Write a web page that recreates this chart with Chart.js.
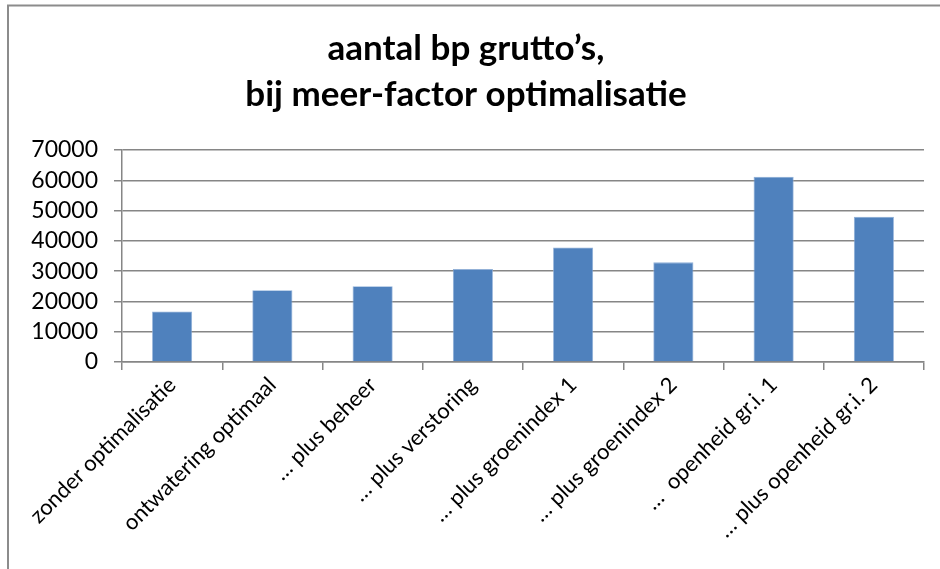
<!DOCTYPE html>
<html>
<head>
<meta charset="utf-8">
<script src="https://cdn.jsdelivr.net/npm/chart.js@4.4.1/dist/chart.umd.min.js"></script>
<style>
html,body{margin:0;padding:0;background:#fff;}
#wrap{width:940px;height:569px;position:relative;}
</style>
</head>
<body>
<div id="wrap"><canvas id="c" width="940" height="569"></canvas></div>
<script>
const titleLines = ["aantal bp grutto\u2019s,", "bij meer-factor optimalisatie"];
const categories = [
  "zonder optimalisatie",
  "ontwatering optimaal",
  "\u2026 plus beheer",
  "\u2026 plus verstoring",
  "\u2026 plus groenindex 1",
  "\u2026 plus groenindex 2",
  "\u2026  openheid gr.i. 1",
  "\u2026 plus openheid gr.i. 2"
];
const values = [16700, 23700, 25000, 30700, 37800, 32900, 61200, 48000];
const yMin = 0, yMax = 70000, yStep = 10000;

const framePlugin = {
  id: 'frame',
  beforeDraw(chart) {
    const ctx = chart.ctx;
    ctx.save();
    ctx.fillStyle = '#fff';
    ctx.fillRect(0, 0, chart.width, chart.height);
    ctx.strokeStyle = '#8c8c8c';
    ctx.lineWidth = 2;
    ctx.beginPath();
    ctx.moveTo(8, chart.height);
    ctx.lineTo(8, 5.5);
    ctx.lineTo(chart.width, 5.5);
    ctx.stroke();
    ctx.restore();
  }
};

new Chart(document.getElementById('c'), {
  type: 'bar',
  data: {
    labels: categories,
    datasets: [{
      data: values,
      backgroundColor: '#4F81BD',
      borderColor: '#8FAFD8',
      borderWidth: 0.8,
      categoryPercentage: 1.0,
      barPercentage: 0.4
    }]
  },
  options: {
    responsive: false,
    animation: false,
    layout: { padding: { left: 8, right: 16, top: 0, bottom: 0 } },
    plugins: {
      legend: { display: false },
      tooltip: { enabled: false },
      title: {
        display: true,
        text: titleLines,
        color: '#000',
        font: { family: 'Lato', size: 35, weight: 'bold', lineHeight: 1.3 },
        padding: { top: 26, bottom: 33 }
      }
    },
    scales: {
      x: {
        offset: true,
        grid: { display: true, drawOnChartArea: false, drawTicks: true, tickLength: 8, offset: true, color: '#868686', lineWidth: 1.5 },
        border: { display: true, color: '#868686', width: 1.5 },
        ticks: {
          color: '#000',
          font: { family: 'Lato', size: 22 },
          minRotation: 45, maxRotation: 45, autoSkip: false, padding: 2
        },
        afterFit(scale) { scale.height = 207; }
      },
      y: {
        min: yMin, max: yMax,
        grid: { color: '#868686', lineWidth: 1.5, tickLength: 8 },
        border: { display: true, color: '#868686', width: 1.5 },
        ticks: {
          stepSize: yStep,
          autoSkip: false,
          color: '#000',
          font: { family: 'Lato', size: 23 },
          padding: 16,
          callback: (v) => String(v)
        },
        afterFit(scale) { scale.width = 114; }
      }
    }
  },
  plugins: [framePlugin]
});
</script>
</body>
</html>
